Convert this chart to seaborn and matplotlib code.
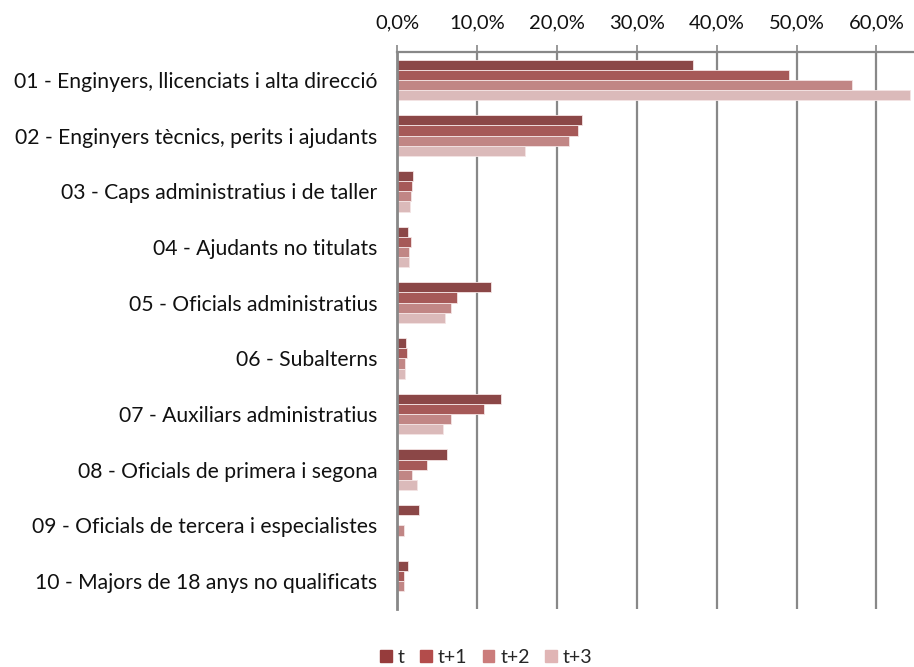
import numpy as np
import pandas as pd
import seaborn as sns
import matplotlib.pyplot as plt
from matplotlib.ticker import FuncFormatter

categories = [
    "01 - Enginyers, llicenciats i alta direcció",
    "02 - Enginyers tècnics, perits i ajudants",
    "03 - Caps administratius i de taller",
    "04 - Ajudants no titulats",
    "05 - Oficials administratius",
    "06 - Subalterns",
    "07 - Auxiliars administratius",
    "08 - Oficials de primera i segona",
    "09 - Oficials de tercera i especialistes",
    "10 - Majors de 18 anys no qualificats",
]
periods = ["t", "t+1", "t+2", "t+3"]

val_t = [37.0, 23.2, 2.0, 1.4, 11.8, 1.1, 13.0, 6.2, 2.7, 1.4]
val_t1 = [49.0, 22.6, 1.9, 1.7, 7.5, 1.2, 10.9, 3.8, 0.0, 0.9]
val_t2 = [57.0, 21.5, 1.75, 1.5, 6.7, 1.0, 6.7, 1.9, 0.9, 0.9]
val_t3 = [64.2, 16.0, 1.6, 1.45, 6.0, 0.95, 5.8, 2.5, 0.0, 0.0]

colors = ["#963c3c", "#b34c4b", "#cb7c7b", "#e0b5b5"]

df = pd.DataFrame({
    "cat": categories * 4,
    "period": np.repeat(periods, len(categories)),
    "value": np.array(val_t + val_t1 + val_t2 + val_t3) / 100,
})

sns.set_style("white")
plt.rcParams["font.family"] = ["Lato", "DejaVu Sans"]

fig = plt.figure(figsize=(9.14, 6.67), dpi=100)
ax = fig.add_axes([0.4344, 0.087, 1 - 0.4344, 0.835])

sns.barplot(data=df, y="cat", x="value", hue="period", palette=colors,
            orient="h", width=0.73, ax=ax, edgecolor="#f4e4e4", linewidth=0.6,
            legend=False)

gray = "#888888"
ax.set_xlim(0, 0.647)
ax.set_ylim(9.5, -0.5)
ax.set_xticks(np.arange(0, 0.61, 0.1))
ax.xaxis.set_major_formatter(FuncFormatter(lambda v, p: f"{v*100:.1f}%".replace(".", ",")))
ax.xaxis.tick_top()
ax.grid(axis="x", color=gray, linewidth=1.6)
ax.set_axisbelow(True)
for s in ["right", "bottom"]:
    ax.spines[s].set_visible(False)
ax.spines["left"].set_color(gray)
ax.spines["left"].set_linewidth(2)
ax.spines["top"].set_color(gray)
ax.spines["top"].set_linewidth(1.6)

ax.set_yticks(np.arange(-0.5, 10, 1), minor=True)
ax.set_yticks(np.arange(10))
ax.set_yticklabels(categories)
ax.tick_params(axis="y", which="major", length=0, pad=14, labelsize=15.2, labelcolor="#111111")
ax.tick_params(axis="y", which="minor", length=6, width=2, color=gray, direction="out")
ax.tick_params(axis="x", length=5, width=1.2, color=gray, pad=10, labelsize=14.5,
               labelcolor="#111111", top=True, bottom=False)
ax.set_xlabel("")
ax.set_ylabel("")

handles = [plt.Rectangle((0, 0), 1, 1, color=c) for c in colors]
fig.legend(handles, periods, loc="center", bbox_to_anchor=(0.532, 0.014), ncol=4,
           frameon=False, fontsize=14, handlelength=0.6, handleheight=0.6,
           handletextpad=0.3, columnspacing=0.8)

fig.savefig("out.png", dpi=100)
